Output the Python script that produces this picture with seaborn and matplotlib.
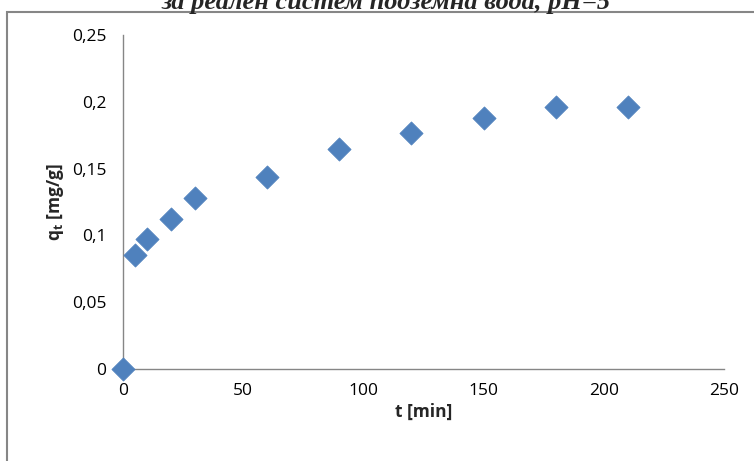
import matplotlib
matplotlib.use("Agg")
import matplotlib.pyplot as plt
import seaborn as sns
import pandas as pd
from matplotlib.patches import Rectangle
from matplotlib.ticker import FuncFormatter

# kinetic data, real groundwater system, pH=5
t_min = [0, 5, 10, 20, 30, 60, 90, 120, 150, 180, 210]
q_t = [0.0, 0.085, 0.097, 0.112, 0.128, 0.144, 0.165, 0.177, 0.188, 0.196, 0.196]
x_ticks = [0, 50, 100, 150, 200, 250]
y_ticks = [0, 0.05, 0.1, 0.15, 0.2, 0.25]

df = pd.DataFrame({"t": t_min, "q": q_t})

sns.set_style("white")
plt.rcParams["font.family"] = ["Open Sans", "DejaVu Sans"]
plt.rcParams["mathtext.fontset"] = "custom"
plt.rcParams["mathtext.bf"] = "Open Sans:bold"

fig = plt.figure(figsize=(7.54, 4.61), dpi=100)
ax = fig.add_axes([0.1631, 0.1996, 0.7971, 0.7245])

sns.scatterplot(data=df, x="t", y="q", marker="D", s=140, color="#4F81BD",
                edgecolor="#4F81BD", linewidth=0.5, ax=ax, clip_on=False, zorder=5)

ax.set_xlim(0, 250)
ax.set_ylim(0, 0.25)
ax.set_xticks(x_ticks)
ax.set_yticks(y_ticks)
fmt = FuncFormatter(lambda v, p: ("%g" % v).replace(".", ","))
ax.xaxis.set_major_formatter(fmt)
ax.yaxis.set_major_formatter(fmt)

for side in ["top", "right"]:
    ax.spines[side].set_visible(False)
for side in ["left", "bottom"]:
    ax.spines[side].set_color("#868686")
    ax.spines[side].set_linewidth(1.0)
ax.tick_params(axis="both", direction="out", length=5, width=1.0, color="#868686",
               labelsize=12.5, labelcolor="#000000", pad=5)
ax.tick_params(axis="y", pad=7)

ax.set_xlabel("t [min]", fontsize=12.5, fontweight="bold", labelpad=3)
ax.set_ylabel(r"q$_{\mathbf{t}}$ [mg/g]", fontsize=12.5, fontweight="bold", labelpad=4)

# outer chart frame
fig.patches.append(Rectangle((0.0093, -0.05), 1.1, 1.024, transform=fig.transFigure,
                             fill=False, edgecolor="#868686", linewidth=1.5))

# caption above the chart, cut off by the image edge as in the source
fig.text(0.512, 1 - 9.5 / 461, "за реален систем подземна вода, pH=5", ha="center",
         va="baseline", fontsize=19, fontweight="bold", fontstyle="italic",
         family=["Liberation Serif", "DejaVu Serif"])

fig.savefig("out.png", dpi=100)
